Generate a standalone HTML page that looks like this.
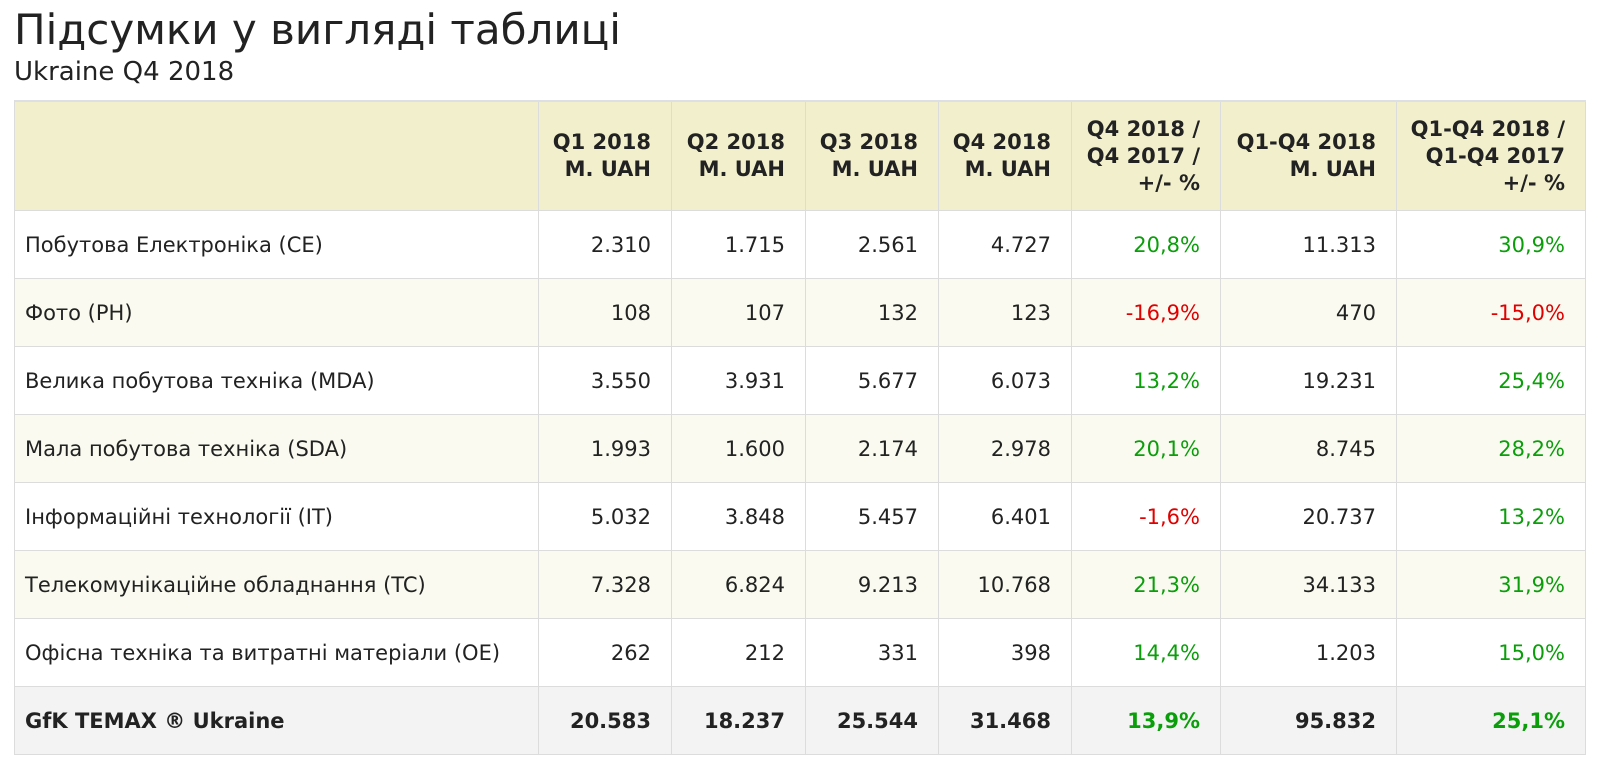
<!DOCTYPE html>
<html><head><meta charset="utf-8"><style>
html,body{margin:0;width:1599px;height:763px;overflow:hidden;background:#fff;font-family:"DejaVu Sans","Liberation Sans",sans-serif;color:#222;}
h1{position:absolute;left:14px;top:4px;margin:0;font-weight:normal;font-size:42px;line-height:52px;}
h2{position:absolute;left:14px;top:56px;margin:0;font-weight:normal;font-size:26px;line-height:32px;}
.g0{position:absolute;left:14px;top:100px;display:grid;grid-template-columns:524px 133px 134px 133px 133px 149px 176px 189px;grid-template-rows:109px 68px 68px 68px 68px 68px 68px 68px 68px;font-size:21px;border-left:1px solid #dcdcdc;border-top:2px solid #dde0e3;}
.g0>div{box-sizing:border-box;border-right:1px solid #dcdcdc;border-bottom:1px solid #dcdcdc;display:flex;align-items:center;justify-content:flex-end;text-align:right;padding:0 20px 0 10px;white-space:nowrap;}
.g0>div.l{justify-content:flex-start;text-align:left;}
.g0>div.h{background:#f2f0cc;font-weight:bold;line-height:27px;}
.g0>div.a{background:#fafaf0;}
.g0>div.t{background:#f3f3f3;font-weight:bold;}
.g{color:#0a9e0a}.r{color:#e00000}
</style></head><body>
<h1>Підсумки у вигляді таблиці</h1>
<h2>Ukraine Q4 2018</h2>
<div class="g0">
<div class="h"></div><div class="h">Q1 2018<br>M. UAH</div><div class="h">Q2 2018<br>M. UAH</div><div class="h">Q3 2018<br>M. UAH</div><div class="h">Q4 2018<br>M. UAH</div><div class="h">Q4 2018 /<br>Q4 2017 /<br>+/- %</div><div class="h">Q1-Q4 2018<br>M. UAH</div><div class="h">Q1-Q4 2018 /<br>Q1-Q4 2017<br>+/- %</div>
<div class="l">Побутова Електроніка (CE)</div><div>2.310</div><div>1.715</div><div>2.561</div><div>4.727</div><div class="g">20,8%</div><div>11.313</div><div class="g">30,9%</div>
<div class="l a">Фото (PH)</div><div class="a">108</div><div class="a">107</div><div class="a">132</div><div class="a">123</div><div class="a r">-16,9%</div><div class="a">470</div><div class="a r">-15,0%</div>
<div class="l">Велика побутова техніка (MDA)</div><div>3.550</div><div>3.931</div><div>5.677</div><div>6.073</div><div class="g">13,2%</div><div>19.231</div><div class="g">25,4%</div>
<div class="l a">Мала побутова техніка (SDA)</div><div class="a">1.993</div><div class="a">1.600</div><div class="a">2.174</div><div class="a">2.978</div><div class="a g">20,1%</div><div class="a">8.745</div><div class="a g">28,2%</div>
<div class="l">Інформаційні технології (IT)</div><div>5.032</div><div>3.848</div><div>5.457</div><div>6.401</div><div class="r">-1,6%</div><div>20.737</div><div class="g">13,2%</div>
<div class="l a">Телекомунікаційне обладнання (TC)</div><div class="a">7.328</div><div class="a">6.824</div><div class="a">9.213</div><div class="a">10.768</div><div class="a g">21,3%</div><div class="a">34.133</div><div class="a g">31,9%</div>
<div class="l">Офісна техніка та витратні матеріали (OE)</div><div>262</div><div>212</div><div>331</div><div>398</div><div class="g">14,4%</div><div>1.203</div><div class="g">15,0%</div>
<div class="l t">GfK TEMAX ® Ukraine</div><div class="t">20.583</div><div class="t">18.237</div><div class="t">25.544</div><div class="t">31.468</div><div class="t g">13,9%</div><div class="t">95.832</div><div class="t g">25,1%</div>
</div>
</body></html>
